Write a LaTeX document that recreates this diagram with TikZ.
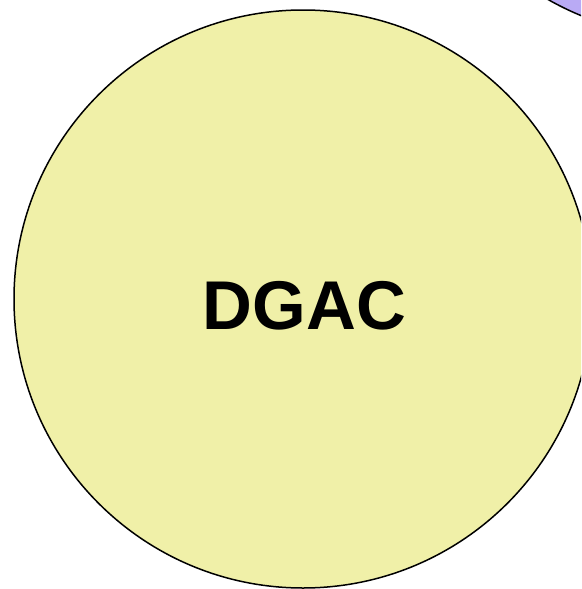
\documentclass[tikz,border=0pt]{standalone}
\usepackage{fontspec}
\setmainfont{Liberation Sans}
\definecolor{dgacyellow}{RGB}{240,240,168}
\definecolor{otherpurple}{RGB}{185,170,245}
\begin{document}
\begin{tikzpicture}[x=1pt,y=1pt]
\def\dgaccircle{(303,-299) circle (289)}
\def\othercircle{(690,250) circle (287)}
    \useasboundingbox (0,0) rectangle (581,-589);
    \begin{scope}
        \clip (0,0) rectangle (581,-589);% picture frame
        \filldraw[fill=otherpurple, line width=1.5pt] \othercircle;
        \filldraw[fill=dgacyellow, line width=1.5pt] \dgaccircle;
    \end{scope}
    \node[font=\bfseries\fontsize{69}{69}\selectfont] (dgac) at (304.5,-305.5) {DGAC};
\end{tikzpicture}
\end{document}
